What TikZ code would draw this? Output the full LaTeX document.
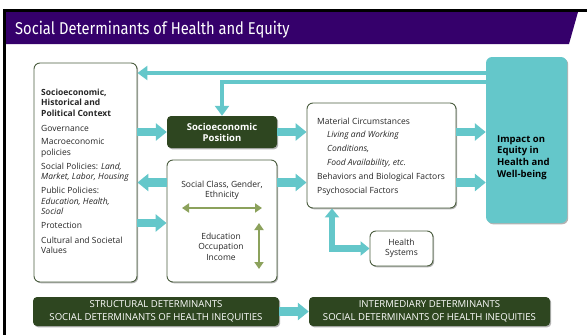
\documentclass[tikz,border=0pt]{standalone}
\usepackage{fontspec}
\setmainfont{Open Sans}
\newfontfamily\titlefont[FakeStretch=0.86]{Fira Sans}
\usetikzlibrary{arrows.meta,shadows,positioning}

\definecolor{sdhpurple}{HTML}{35006B}
\definecolor{sdhgreen}{HTML}{2E4620}
\definecolor{sdhframe}{HTML}{4C5E40}
\definecolor{sdhcyan}{HTML}{64C7CA}
\definecolor{sdholive}{HTML}{8CA25C}

\newcommand\sdhbody{\fontsize{8.5}{10.3}\selectfont}

\tikzset{
  shadowed/.style={drop shadow={shadow xshift=1.2pt,shadow yshift=-1.3pt,opacity=0.3,fill=black}},
  framebox/.style={draw=sdhframe,line width=0.9pt,rounded corners=6pt,fill=white,shadowed},
  darkbox/.style={fill=sdhgreen,rounded corners=4pt,text=white,shadowed},
  boxtext/.style={inner sep=0pt,text=black!85,font=\sdhbody},
  feedback/.style={draw=sdhcyan,line width=4.7pt,line join=miter,-{Triangle[length=10pt,width=14pt]}},
  blockarrow/.style={draw=sdhcyan,line width=8.5pt,-{Triangle[length=11pt,width=17pt]}},
  elbowarrow/.style={draw=sdhcyan,line width=6.5pt,line join=miter,{Triangle[length=9pt,width=14pt]}-{Triangle[length=9pt,width=14pt]}},
  olivearrow/.style={draw=sdholive,line width=2.8pt,{Triangle[length=7pt,width=9pt]}-{Triangle[length=7pt,width=9pt]}}
}

\begin{document}
\begin{tikzpicture}[x=1pt,y=-1pt]

        \useasboundingbox (0,0) rectangle (587,335);

        % slide frame and title bar
        \fill[black] (3,9) rectangle (587,12);
        \fill[black] (3,9) rectangle (6,335);
        \fill[sdhpurple] (6,12) -- (578,12) -- (569,44) -- (6,44) -- cycle;
        \node[anchor=base west,inner sep=0pt,text=white,font=\titlefont\fontsize{17.1}{19}\selectfont] (title) at (15,34) {Social Determinants of Health and Equity};

        % boxes
        \node[framebox,minimum width=103pt,minimum height=219pt] (ctx) at (85.5,172.5) {};
        \node[darkbox,minimum width=110pt,minimum height=32pt,align=center,font=\bfseries\fontsize{9.5}{11}\selectfont] (sep) at (222,132) {Socioeconomic\\Position};
        \node[framebox,minimum width=110pt,minimum height=122pt] (scl) at (222,221) {};
        \node[framebox,minimum width=149pt,minimum height=105pt] (mat) at (381.5,155.5) {};
        \node[framebox,minimum width=63pt,minimum height=35pt,align=center,boxtext] (hs) at (401.5,248.5) {Health\\Systems};
        \node[fill=sdhcyan,rounded corners=6pt,minimum width=81pt,minimum height=166pt,shadowed] (impact) at (526.5,140) {};

        % texts
        \node[boxtext,anchor=north west,align=left] (ctxtext) at (41,89) {%
          \textbf{Socioeconomic,}\\ \textbf{Historical and}\\ \textbf{Political Context}\\[4.5pt]
          Governance\\[3.5pt]
          Macroeconomic\\ policies\\[3.8pt]
          Social Policies: \textit{Land,}\\ \textit{Market, Labor, Housing}\\[4pt]
          Public Policies:\\ \textit{Education, Health,}\\ \textit{Social}\\[3.8pt]
          Protection\\[4.5pt]
          Cultural and Societal\\ Values};
        \node[boxtext,align=center] (scltext) at (222,190) {Social Class, Gender,\\Ethnicity};
        \node[boxtext,align=center,font=\fontsize{8.5}{10.5}\selectfont] (eoi) at (221,246.5) {Education\\Occupation\\Income};
        \node[boxtext,anchor=north west,align=left,font=\fontsize{8.5}{13.8}\selectfont] (mattext) at (317,117.5) {%
          Material Circumstances\\
          \hspace*{10pt}\textit{Living and Working}\\
          \hspace*{10pt}\textit{Conditions,}\\
          \hspace*{10pt}\textit{Food Availability, etc.}\\
          Behaviors and Biological Factors\\
          Psychosocial Factors};
        \node[inner sep=0pt,anchor=west,align=left,font=\bfseries\fontsize{9.5}{11.6}\selectfont] (impacttext) at (497,157.5) {Impact on\\Equity in\\Health and\\Well-being};

        % banners
        \node[darkbox,minimum width=246pt,minimum height=29pt,align=center,font=\fontsize{9.6}{12.5}\selectfont] (structural) at (156,311.5) {STRUCTURAL DETERMINANTS\\SOCIAL DETERMINANTS OF HEALTH INEQUITIES};
        \node[darkbox,minimum width=241pt,minimum height=29pt,align=center,font=\fontsize{9.6}{12.5}\selectfont] (intermediary) at (429.5,311.5) {INTERMEDIARY DETERMINANTS\\SOCIAL DETERMINANTS OF HEALTH INEQUITIES};

        % arrow rows
        \coordinate (fbone) at (0,73);
        \coordinate (fbtwo) at (0,82);
        \coordinate (rowb) at (0,182.5);
        \coordinate (rowc) at (0,223);
        \coordinate (hscol) at (332,0);

        \draw[feedback] (impact.west |- fbone) -- (ctx.east |- fbone);
        \draw[feedback] (impact.west |- fbtwo) -| (sep.north);

        \draw[blockarrow] (ctx.east |- sep.west) -- (sep.west);
        \draw[blockarrow] (scl.west |- rowb) -- (ctx.east |- rowb);
        \draw[blockarrow] (ctx.east |- rowc) -- (scl.west |- rowc);
        \draw[blockarrow] (sep.east) -- (mat.west |- sep.east);
        \draw[blockarrow] (scl.east |- rowb) -- (mat.west |- rowb);
        \draw[blockarrow] (mat.east |- sep.east) -- (impact.west |- sep.east);
        \draw[blockarrow] (mat.east |- rowb) -- (impact.west |- rowb);
        \draw[blockarrow] (structural.east) -- (intermediary.west);

        \draw[elbowarrow] (mat.south -| hscol) |- (hs.west);

        % arrows inside the position box
        \coordinate (clsl) at (182,208);
        \coordinate (clsr) at (262,208);
        \coordinate (eoit) at (259,223);
        \coordinate (eoib) at (259,269);
        \draw[olivearrow] (clsl) -- (clsr);
        \draw[olivearrow] (eoit) -- (eoib);

\end{tikzpicture}
\end{document}
